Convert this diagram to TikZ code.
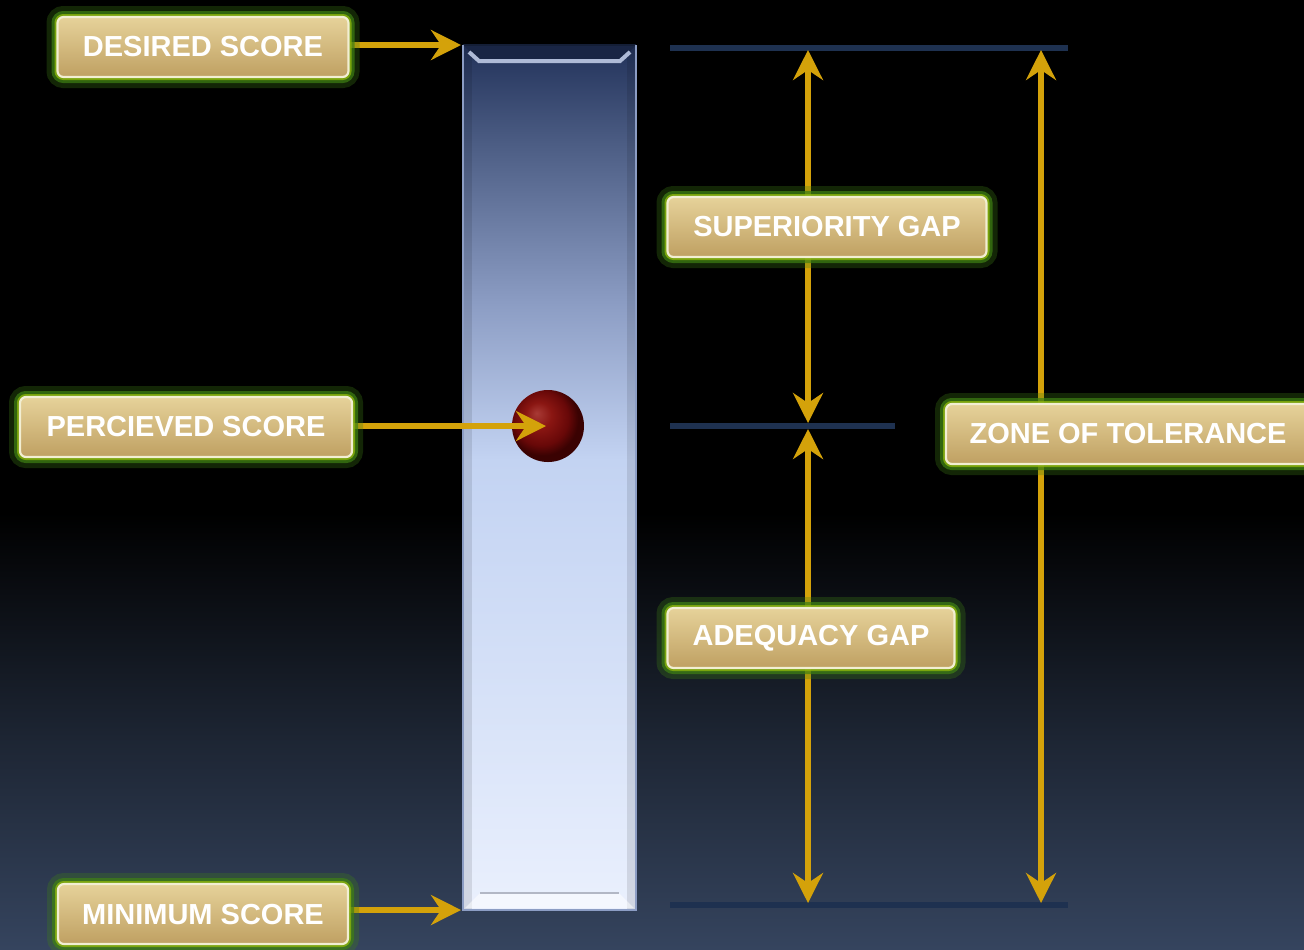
\documentclass[tikz,border=0pt]{standalone}
\usepackage{fontspec}
\setmainfont{Liberation Sans}
\usetikzlibrary{arrows.meta,shadings}
\definecolor{gold}{HTML}{D4A20A}
\definecolor{navyline}{HTML}{1E3150}
\definecolor{tanTop}{HTML}{E6D29A}
\definecolor{tanBot}{HTML}{BFA062}
\definecolor{cream}{HTML}{F2EED2}
\definecolor{glow}{HTML}{3F8014}
\definecolor{bgBot}{HTML}{35445E}
\definecolor{bA}{HTML}{EAF0FD}
\definecolor{bB}{HTML}{D7E2F8}
\definecolor{bC}{HTML}{C3D3F2}
\definecolor{bD}{HTML}{8C9DC4}
\definecolor{bE}{HTML}{4E5F86}
\definecolor{bF}{HTML}{22325A}
\definecolor{rA}{HTML}{A83A35}
\definecolor{rB}{HTML}{8A1612}
\definecolor{rC}{HTML}{680808}
\definecolor{rD}{HTML}{3A0202}
\pgfdeclarelayer{bg}
\pgfdeclarelayer{arr}
\pgfsetlayers{bg,arr,main}
\pgfdeclareverticalshading{bgshade}{100bp}{color(0bp)=(bgBot); color(25bp)=(bgBot); color(36bp)=(bgBot!55!black); color(48bp)=(black); color(100bp)=(black)}
\pgfdeclareverticalshading{barshade}{100bp}{color(0bp)=(bA); color(25bp)=(bA); color(37bp)=(bB); color(51bp)=(bC); color(60bp)=(bD); color(69bp)=(bE); color(75bp)=(bF); color(100bp)=(bF)}
\pgfdeclareradialshading{ballshade}{\pgfpoint{-8bp}{9bp}}{color(0bp)=(rA); color(9bp)=(rB); color(19bp)=(rC); color(25bp)=(rD); color(50bp)=(rD)}
\tikzset{
  lbl/.style={rounded corners=3pt, draw=cream, line width=1.1pt,
    top color=tanTop, bottom color=tanBot, text=white,
    font=\fontsize{14.5}{17}\selectfont\bfseries, inner sep=0pt,
    minimum height=30pt,
    preaction={draw=glow, line width=11pt, opacity=0.3},
    preaction={draw=glow, line width=6pt, opacity=0.7},
    preaction={draw=glow!60!yellow, line width=3pt, opacity=0.8}},
  garrow/.style={draw=gold, line width=3pt, -{Stealth[length=15pt,width=15pt,inset=5pt]}},
  hline/.style={draw=navyline, line width=2.8pt}
}
\begin{document}
\begin{tikzpicture}[x=0.5pt,y=-0.5pt]
\useasboundingbox (0,0) rectangle (1304,949);
% label nodes
\node[lbl, minimum width=145.5pt] (des) at (203,47) {DESIRED SCORE};
\node[lbl, minimum width=166pt] (per) at (186,427) {PERCIEVED SCORE};
\node[lbl, minimum width=145pt] (minn) at (203,914) {MINIMUM SCORE};
\node[lbl, minimum width=159.5pt] (sup) at (827,227) {SUPERIORITY GAP};
\node[lbl, minimum width=143.5pt] (adq) at (811,638) {ADEQUACY GAP};
\node[lbl, minimum width=182pt] (zone) at (1128,434) {ZONE OF TOLERANCE};
% coordinates
\coordinate (desTip) at (461,45);
\coordinate (perTip) at (546,426);
\coordinate (minTip) at (461,910);
\coordinate (L1a) at (670,48); \coordinate (L1b) at (1068,48);
\coordinate (L2a) at (670,426); \coordinate (L2b) at (895,426);
\coordinate (L3a) at (670,905); \coordinate (L3b) at (1068,905);
\coordinate (sTop) at (808,50); \coordinate (sBot) at (808,423);
\coordinate (aTop) at (808,429); \coordinate (aBot) at (808,903);
\coordinate (zTop) at (1041,50); \coordinate (zBot) at (1041,903);
\begin{pgfonlayer}{bg}
  \shade[shading=bgshade] (0,0) rectangle (1304,949);
  % bar
  \shade[shading=barshade] (463,45) rectangle (636,910);
  \fill[black, opacity=0.1] (463,45) rectangle (472,910);
  \fill[black, opacity=0.1] (627,45) rectangle (636,910);
  \fill[bF!75!black] (464,46) -- (635,46) -- (621,60) -- (478,60) -- cycle;
  \draw[bD!70!white, line width=2pt] (469,52) -- (479,61) -- (620,61) -- (630,52);
  \fill[white, opacity=0.5] (465,908) -- (634,908) -- (619,893) -- (480,893) -- cycle;
  \draw[bF!35!white, line width=0.8pt] (480,893) -- (619,893);
  \draw[bF!60!black, line width=1pt] (463,45) -- (636,45);
  \draw[bD, line width=1pt] (463,45) -- (463,910) -- (636,910) -- (636,45);
  % ball
  \shade[shading=ballshade] (548,426) circle[radius=18pt];
\end{pgfonlayer}
\begin{pgfonlayer}{arr}
  \draw[hline] (L1a) -- (L1b);
  \draw[hline] (L2a) -- (L2b);
  \draw[hline] (L3a) -- (L3b);
  \draw[garrow] (des.east |- desTip) -- (desTip);
  \draw[garrow] (per.east |- perTip) -- (perTip);
  \draw[garrow] (minn.east |- minTip) -- (minTip);
  \draw[garrow] (sup.north -| sTop) -- (sTop);
  \draw[garrow] (sup.south -| sBot) -- (sBot);
  \draw[garrow] (adq.north -| aTop) -- (aTop);
  \draw[garrow] (adq.south -| aBot) -- (aBot);
  \draw[garrow] (zone.north -| zTop) -- (zTop);
  \draw[garrow] (zone.south -| zBot) -- (zBot);
\end{pgfonlayer}
\end{tikzpicture}
\end{document}
